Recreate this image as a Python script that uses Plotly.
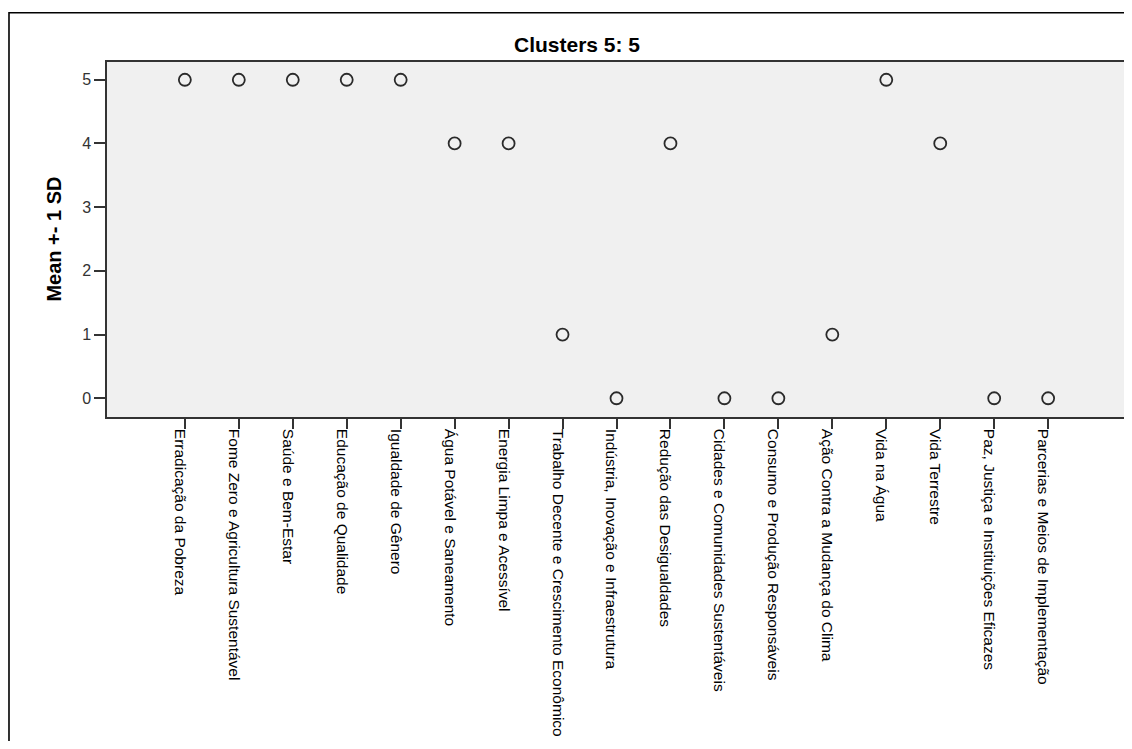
import plotly.graph_objects as go

categories = [
    "Erradicação da Pobreza",
    "Fome Zero e Agricultura Sustentável",
    "Saúde e Bem-Estar",
    "Educação de Qualidade",
    "Igualdade de Gênero",
    "Água Potável e Saneamento",
    "Energia Limpa e Acessível",
    "Trabalho Decente e Crescimento Econômico",
    "Indústria, Inovação e Infraestrutura",
    "Redução das Desigualdades",
    "Cidades e Comunidades Sustentáveis",
    "Consumo e Produção Responsáveis",
    "Ação Contra a Mudança do Clima",
    "Vida na Água",
    "Vida Terrestre",
    "Paz, Justiça e Instituições Eficazes",
    "Parcerias e Meios de Implementação",
]
means = [5, 5, 5, 5, 5, 4, 4, 1, 0, 4, 0, 0, 1, 5, 4, 0, 0]
y_ticks = [0, 1, 2, 3, 4, 5]
title_text = "Clusters 5: 5"
y_title = "Mean +- 1 SD"

# page body has an 8px margin, so the figure starts at (8, 8)
W, H = 1124, 733
L, R, T, B = 99, 4, 54, 319
pw = W - L - R
ph = H - T - B

fig = go.Figure()
fig.add_trace(go.Scatter(
    x=list(range(len(categories))),
    y=means,
    mode="markers",
    marker=dict(symbol="circle-open", size=12, color="#2a2a2a",
                line=dict(width=1.8, color="#2a2a2a")),
    hoverinfo="skip",
    showlegend=False,
))

font = "Liberation Sans, Arial, sans-serif"

fig.update_layout(
    width=W, height=H,
    margin=dict(l=L, r=R, t=T, b=B),
    paper_bgcolor="white",
    plot_bgcolor="#f0f0f0",
    font=dict(family=font, size=12, color="black"),
    title=dict(text="<b>" + title_text + "</b>", x=569 / W, xanchor="center",
               y=1 - 37 / H, yanchor="middle",
               font=dict(family=font, size=21, color="black")),
    xaxis=dict(
        tickmode="array",
        tickvals=list(range(len(categories))),
        ticktext=categories,
        tickangle=90,
        range=[-1.443, 17.443],
        showgrid=False, zeroline=False,
        showline=True, linecolor="#333333", linewidth=1.5, mirror=True,
        ticks="outside", ticklen=10, tickcolor="#333333", tickwidth=1.5,
        ticklabelshift=-5, ticklabelstandoff=-3,
        tickfont=dict(family=font, size=15.5, color="black"),
    ),
    yaxis=dict(
        tickmode="array",
        tickvals=y_ticks,
        ticktext=[str(v) for v in y_ticks],
        range=[-0.294, 5.279],
        showgrid=False, zeroline=False,
        showline=True, linecolor="#333333", linewidth=1.5, mirror=True,
        ticks="outside", ticklen=11, tickcolor="#333333", tickwidth=1.5,
        tickfont=dict(family=font, size=16, color="#333333"),
    ),
)

fig.add_annotation(text="<b>" + y_title + "</b>", xref="paper", yref="paper",
                   x=(45 - L) / pw, y=0.5, xanchor="center", yanchor="middle",
                   textangle=-90, showarrow=False,
                   font=dict(family=font, size=20, color="black"))

# outer frame
fig.add_shape(type="rect", xref="paper", yref="paper",
              x0=(0.8 - L) / pw, x1=(W + 20 - L) / pw,
              y0=-(B + 20) / ph, y1=(T + ph - 4) / ph,
              line=dict(color="black", width=1.6), fillcolor="rgba(0,0,0,0)",
              layer="above")

fig.write_html("out.html")
